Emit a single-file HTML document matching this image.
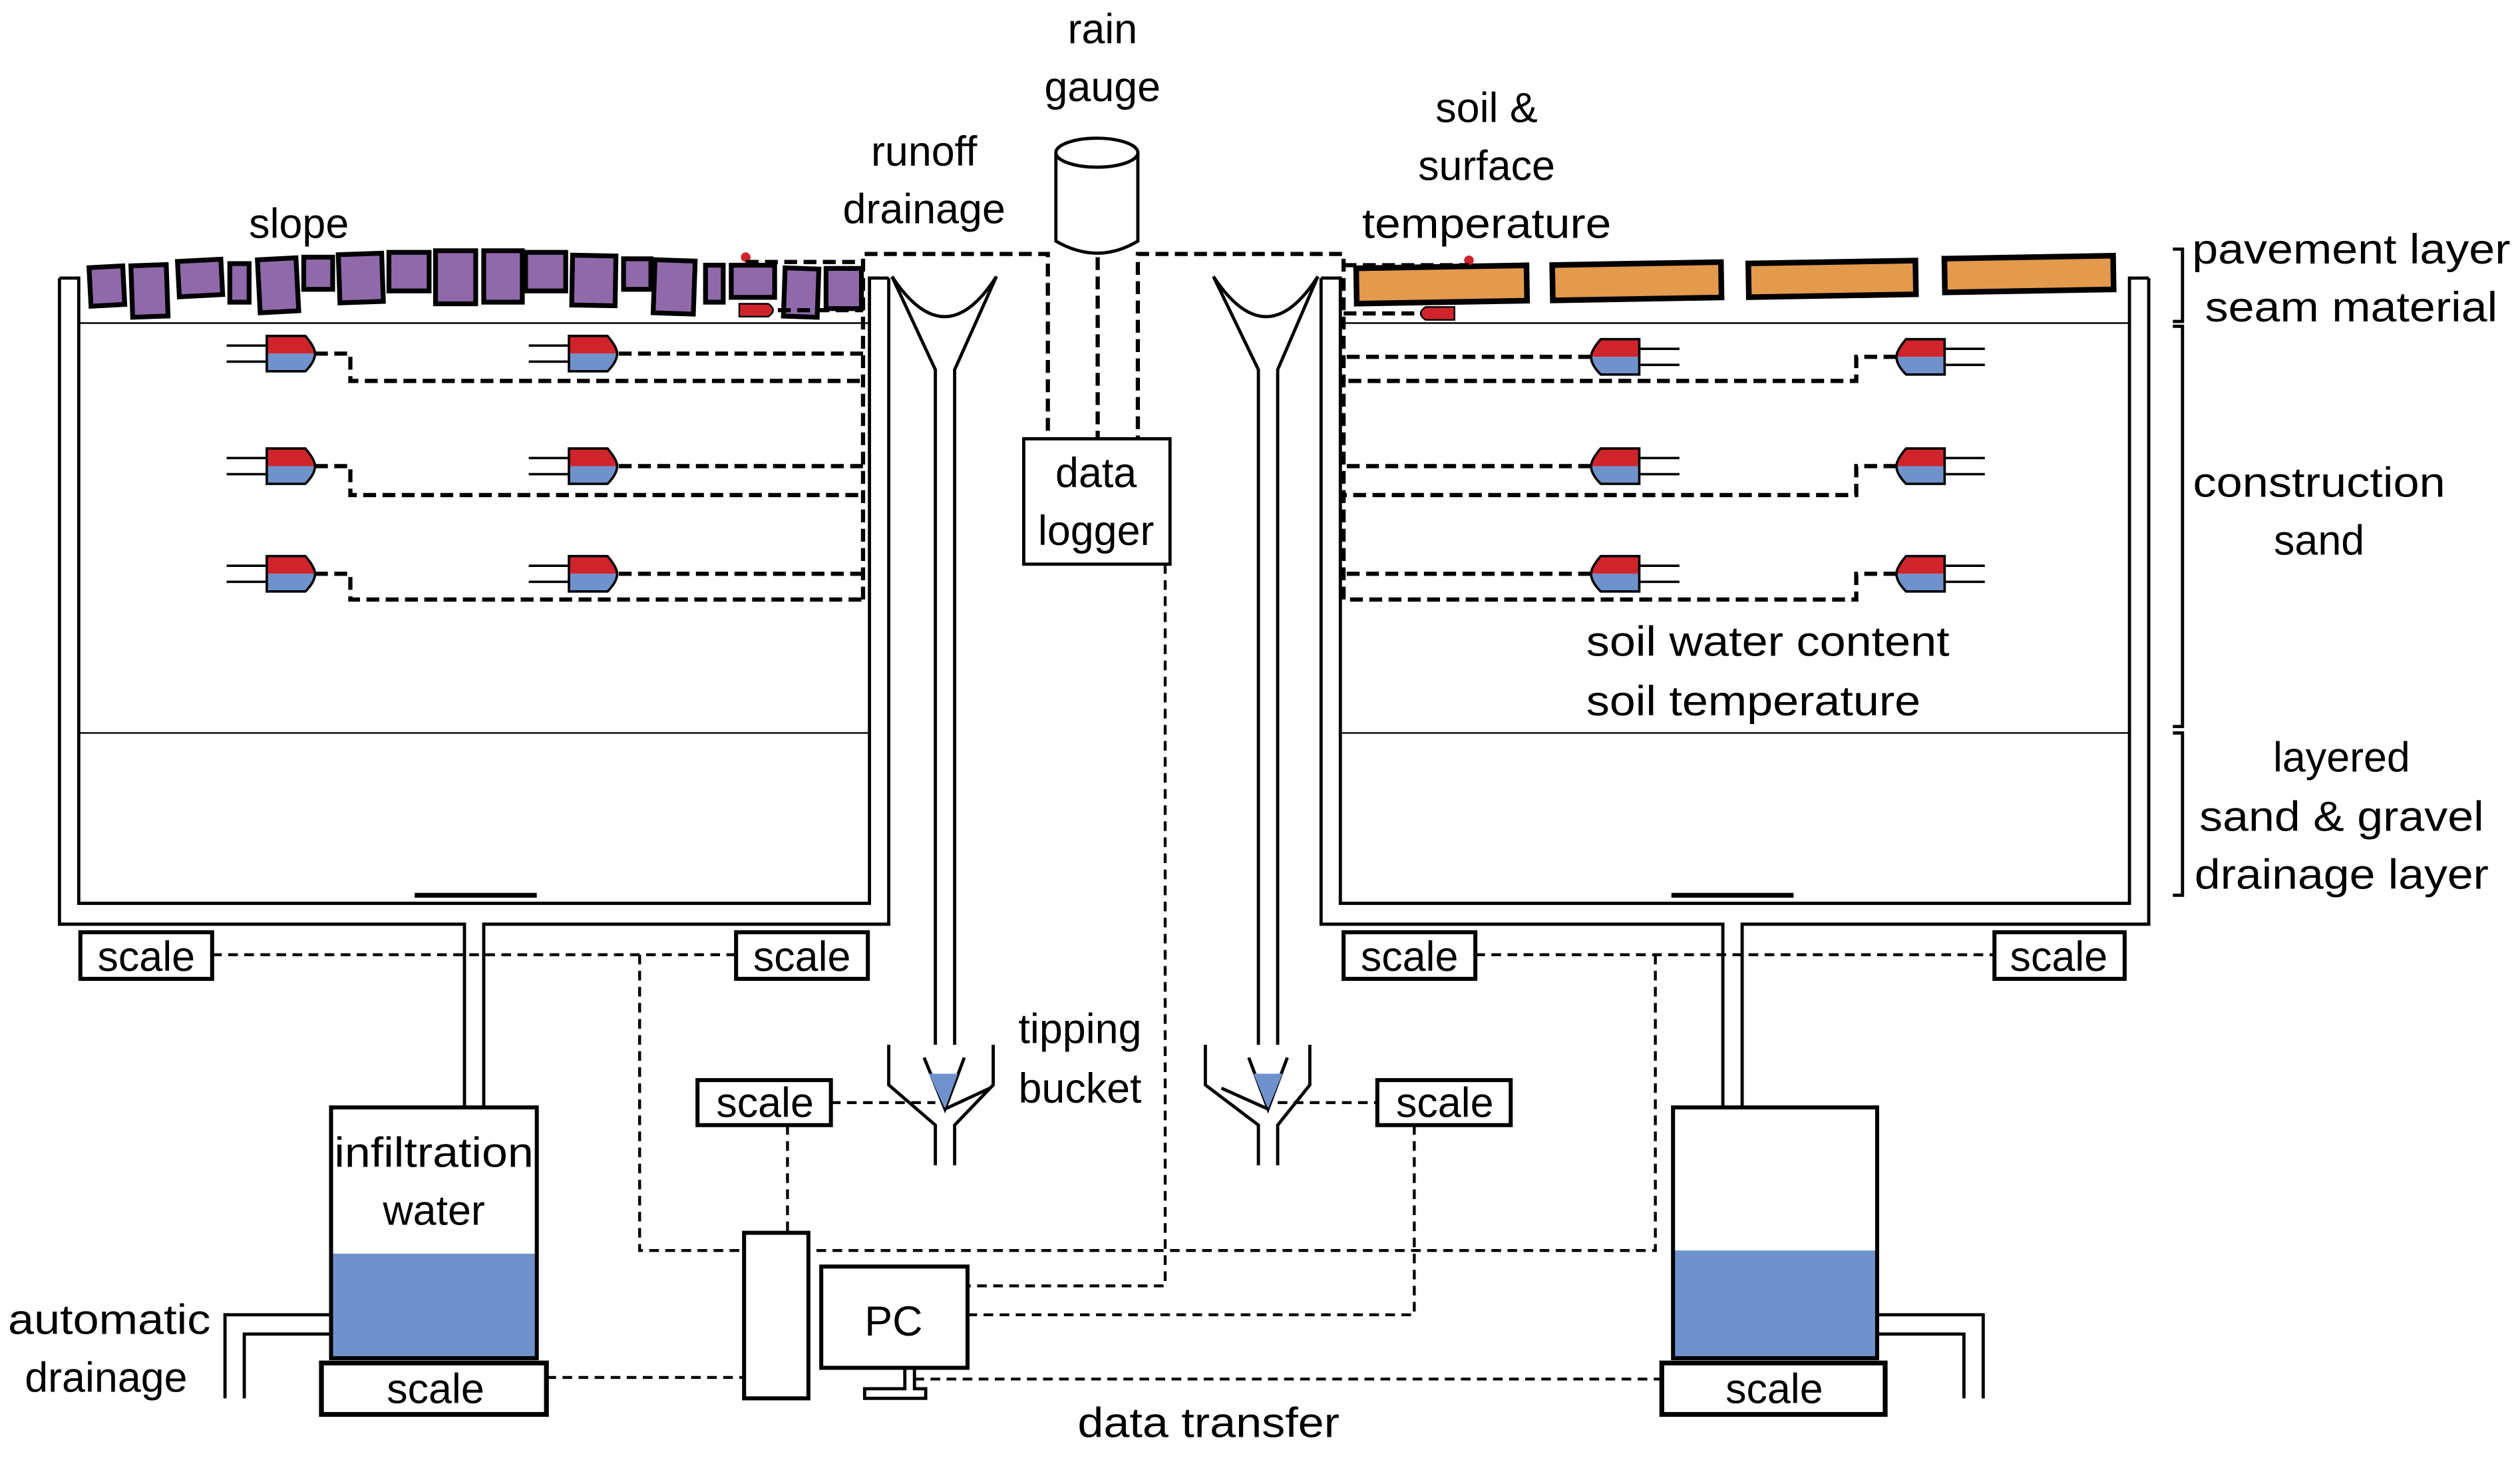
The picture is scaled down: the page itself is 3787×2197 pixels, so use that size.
<!DOCTYPE html>
<html><head><meta charset="utf-8"><style>html,body{margin:0;padding:0;background:#fff}svg{display:block}text{font-family:"Liberation Sans",sans-serif;fill:#000}</style></head>
<body>
<svg width="3787" height="2197" viewBox="0 0 1568 909.6" preserveAspectRatio="none" xmlns="http://www.w3.org/2000/svg">
<defs>
<g id="sl"><line x1="-25" y1="-5" x2="0" y2="-5" stroke="#000" stroke-width="1.5"/><line x1="-25" y1="5" x2="0" y2="5" stroke="#000" stroke-width="1.5"/>
<path d="M0,-11 H24 Q30,-4 30,0 H0Z" fill="#d0242c"/><path d="M0,0 H30 Q30,5 24,11 H0Z" fill="#7092cc"/>
<path d="M0,-11 H24 Q30,-4 30,0 Q30,5 24,11 H0Z" fill="none" stroke="#000" stroke-width="1.5"/></g>
<g id="sr"><use href="#sl" transform="scale(-1,1)"/></g>
</defs>
<g fill="none" stroke="#000" stroke-width="2">
<path d="M37,173 H49 V562 H541 V173 H553"/>
<path d="M37,173 V575 H289 V688 M301,688 V575 H553 V173"/>
<line x1="258" y1="557" x2="334" y2="557" stroke-width="3"/>
<line x1="49" y1="201" x2="541" y2="201" stroke-width="1"/>
<line x1="49" y1="456" x2="541" y2="456" stroke-width="1"/>
<path d="M822,173 H834 V562 H1325 V173 H1337"/>
<path d="M822,173 V575 H1072 V688 M1084,688 V575 H1337 V173"/>
<line x1="1040" y1="557" x2="1116" y2="557" stroke-width="3"/>
<line x1="834" y1="201" x2="1325" y2="201" stroke-width="1"/>
<line x1="834" y1="456" x2="1325" y2="456" stroke-width="1"/>
<path d="M555,172 Q588,222 620,172 M555,172 L582,230 V650 M620,172 L594,230 V650"/>
<path d="M755,172 Q788,222 820,172 M755,172 L783,230 V650 M820,172 L795,230 V650"/>
<path d="M553,650 V675 L582,700 V725 M618,650 V675 L594,700 V725"/>
<path d="M750,650 V675 L783,700 V725 M815,650 V675 L795,700 V725"/>
<path d="M575,658 L588,690 L600,658" fill="none"/>
<path d="M578,668 L588,690 L596,668Z" fill="#7092cc" stroke="none"/>
<path d="M588,690 L616,677"/>
<path d="M777,658 L789,690 L801,658" fill="none"/>
<path d="M780,668 L789,690 L798,668Z" fill="#7092cc" stroke="none"/>
<path d="M789,690 L760,677"/>
<path d="M657,95 V150 Q683,165 708,150 V95"/>
<ellipse cx="682.5" cy="95" rx="25.5" ry="9" fill="#fff"/>
<rect x="637" y="273" width="91" height="78" fill="#fff"/>
<rect x="50" y="580" width="82" height="29" stroke-width="2.5"/>
<rect x="458" y="580" width="82" height="29" stroke-width="2.5"/>
<rect x="836" y="580" width="82" height="29" stroke-width="2.5"/>
<rect x="1241" y="580" width="81" height="29" stroke-width="2.5"/>
<rect x="434" y="672" width="83" height="28" stroke-width="2.5"/>
<rect x="857" y="672" width="83" height="28" stroke-width="2.5"/>
<rect x="206" y="780" width="128" height="65" fill="#7092cc" stroke="none"/>
<rect x="206" y="689" width="128" height="156" stroke-width="2.5"/>
<rect x="200" y="848" width="140" height="32" stroke-width="3"/>
<rect x="1041" y="778" width="127" height="67" fill="#7092cc" stroke="none"/>
<rect x="1041" y="689" width="127" height="156" stroke-width="2.5"/>
<rect x="1034" y="848" width="139" height="32" stroke-width="3"/>
<path d="M206,818 H140 V870 M206,830 H152 V870"/>
<path d="M1168,818 H1234 V870 M1168,830 H1222 V870"/>
<rect x="463" y="767" width="40" height="103" stroke-width="2.5"/>
<rect x="511" y="788" width="91" height="63" stroke-width="2.5"/>
<path d="M563,851 V864 H538 V870 H576 V864 H569 V851" stroke-width="2"/>
</g>
<g fill="#9069aa" stroke="#000" stroke-width="3">
<rect x="56" y="166" width="21" height="24" transform="rotate(-3 66 178)"/>
<rect x="82" y="165" width="22" height="32" transform="rotate(-2 93 181)"/>
<rect x="111" y="162" width="27" height="22" transform="rotate(-3 124 173)"/>
<rect x="143" y="164" width="12" height="24"/>
<rect x="161" y="161" width="24" height="33" transform="rotate(-3 173 177)"/>
<rect x="189" y="160" width="18" height="20"/>
<rect x="211" y="158" width="27" height="30" transform="rotate(-2 224 173)"/>
<rect x="242" y="157" width="25" height="24"/>
<rect x="271" y="156" width="25" height="33"/>
<rect x="301" y="156" width="24" height="32"/>
<rect x="327" y="157" width="25" height="24"/>
<rect x="356" y="159" width="27" height="31" transform="rotate(1 369 174)"/>
<rect x="388" y="161" width="17" height="19"/>
<rect x="407" y="162" width="25" height="33" transform="rotate(2 419 178)"/>
<rect x="439" y="165" width="11" height="23"/>
<rect x="455" y="165" width="27" height="20"/>
<rect x="488" y="167" width="21" height="30" transform="rotate(2 498 182)"/>
<rect x="514" y="167" width="22" height="25"/>
</g>
<g fill="#e39a4c" stroke="#000" stroke-width="3.5">
<rect x="844" y="166" width="106" height="22" transform="rotate(-1 897 177)"/>
<rect x="966" y="164" width="105" height="22" transform="rotate(-1 1018 175)"/>
<rect x="1088" y="163" width="104" height="21" transform="rotate(-1 1140 174)"/>
<rect x="1210" y="160" width="105" height="21" transform="rotate(-1 1262 171)"/>
</g>
<use href="#sl" x="166" y="220"/><use href="#sl" x="354" y="220"/>
<use href="#sl" x="166" y="290"/><use href="#sl" x="354" y="290"/>
<use href="#sl" x="166" y="357"/><use href="#sl" x="354" y="357"/>
<use href="#sr" x="1020" y="222"/><use href="#sr" x="1210" y="222"/>
<use href="#sr" x="1020" y="290"/><use href="#sr" x="1210" y="290"/>
<use href="#sr" x="1020" y="357"/><use href="#sr" x="1210" y="357"/>
<path d="M460,189 H478 Q484,193 478,197 H460Z" fill="#d0242c" stroke="#000" stroke-width="1"/>
<circle cx="464" cy="160" r="3" fill="#d0242c"/>
<path d="M905,191 H887 Q881,195 887,199 H905Z" fill="#d0242c" stroke="#000" stroke-width="1"/>
<circle cx="914" cy="162" r="3" fill="#d0242c"/>
<g fill="none" stroke="#000" stroke-width="2.6" stroke-dasharray="8,4">
<path d="M196,220 H218 V237 H537"/><path d="M385,220 H537"/>
<path d="M196,290 H218 V308 H537"/><path d="M385,290 H537"/>
<path d="M196,357 H218 V373 H537"/><path d="M385,357 H537"/>
<path d="M537,373 V158 H652 V273"/><path d="M464,163 H537"/><path d="M484,193 H537"/>
<path d="M683,160 V273"/>
<path d="M836,373 V158 H708 V273"/><path d="M836,165 H914"/><path d="M836,195 H881"/>
<path d="M990,222 H836"/><path d="M1180,222 H1155 V237 H836"/>
<path d="M990,290 H836"/><path d="M1180,290 H1155 V308 H836"/>
<path d="M990,357 H836"/><path d="M1180,357 H1155 V373 H836"/>
</g>
<g fill="none" stroke="#000" stroke-width="1.8" stroke-dasharray="6,4">
<path d="M132,594 H458"/><path d="M398,594 V778 H463"/>
<path d="M918,594 H1241"/><path d="M1030,594 V778 H503"/>
<path d="M517,686 H582"/><path d="M490,700 V767"/>
<path d="M795,686 H857"/><path d="M880,700 V818 H602"/>
<path d="M725,351 V800 H602"/>
<path d="M340,857 H463"/><path d="M569,858 H1034"/>
</g>
<g fill="none" stroke="#000" stroke-width="2">
<path d="M1352,155 H1358 V200 H1352"/>
<path d="M1352,203 H1358 V452 H1352"/>
<path d="M1352,456 H1358 V557 H1352"/>
</g>
<g font-size="26" text-anchor="middle">
<text x="686" y="27">rain</text>
<text x="686" y="63">gauge</text>
<text x="575" y="103">runoff</text>
<text x="575" y="139">drainage</text>
<text x="186" y="148">slope</text>
<text x="925" y="76">soil &amp;</text>
<text x="925" y="112">surface</text>
<text x="925" y="148" textLength="155" lengthAdjust="spacingAndGlyphs">temperature</text>
<text x="682" y="303">data</text>
<text x="682" y="339">logger</text>
<text x="1100" y="408" textLength="226" lengthAdjust="spacingAndGlyphs">soil water content</text>
<text x="1091" y="445" textLength="208" lengthAdjust="spacingAndGlyphs">soil temperature</text>
<text x="1463" y="164" textLength="198" lengthAdjust="spacingAndGlyphs">pavement layer</text>
<text x="1463" y="200" textLength="182" lengthAdjust="spacingAndGlyphs">seam material</text>
<text x="1443" y="309" textLength="157" lengthAdjust="spacingAndGlyphs">construction</text>
<text x="1443" y="345">sand</text>
<text x="1457" y="480">layered</text>
<text x="1457" y="517" textLength="177" lengthAdjust="spacingAndGlyphs">sand &amp; gravel</text>
<text x="1457" y="553" textLength="183" lengthAdjust="spacingAndGlyphs">drainage layer</text>
<text x="91" y="604">scale</text><text x="499" y="604">scale</text>
<text x="877" y="604">scale</text><text x="1281" y="604">scale</text>
<text x="476" y="695">scale</text><text x="899" y="695">scale</text>
<text x="672" y="649">tipping</text>
<text x="672" y="686">bucket</text>
<text x="270" y="726" textLength="124" lengthAdjust="spacingAndGlyphs">infiltration</text>
<text x="270" y="762">water</text>
<text x="68" y="830" textLength="126" lengthAdjust="spacingAndGlyphs">automatic</text>
<text x="66" y="866">drainage</text>
<text x="271" y="873">scale</text><text x="1104" y="873">scale</text>
<text x="556" y="831">PC</text>
<text x="752" y="894" textLength="163" lengthAdjust="spacingAndGlyphs">data transfer</text>
</g>
</svg>
</body></html>
